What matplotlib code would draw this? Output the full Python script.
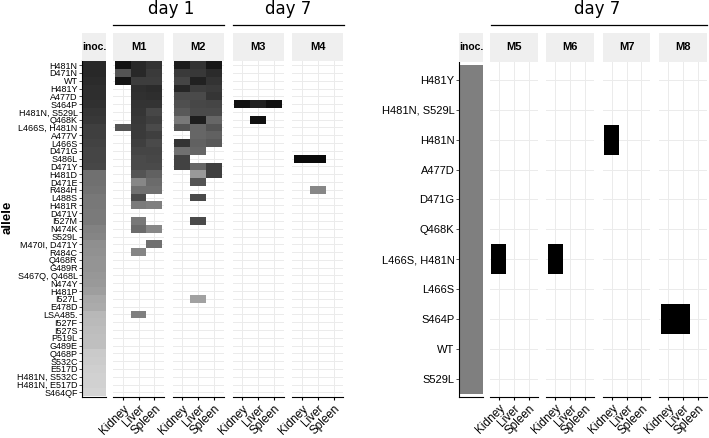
import numpy as np
import matplotlib
matplotlib.use("Agg")
import matplotlib.pyplot as plt
from matplotlib.colors import LinearSegmentedColormap
from matplotlib.lines import Line2D

# -------------------- data --------------------
tissues = ["Kidney", "Liver", "Spleen"]

left_alleles = ["H481N", "D471N", "WT", "H481Y", "A477D", "S464P", "H481N, S529L",
                "Q468K", "L466S, H481N", "A477V", "L466S", "D471G", "S486L", "D471Y",
                "H481D", "D471E", "R484H", "L488S", "H481R", "D471V", "I527M", "N474K",
                "S529L", "M470I, D471Y", "R484C", "Q468R", "G489R", "S467Q, Q468L",
                "N474Y", "H481P", "I527L", "E478D", "LSA485.", "I527F", "I527S", "P519L",
                "G489E", "Q468P", "S532C", "E517D", "H481N, S532C", "H481N, E517D", "S464QF"]

# shade (0 = white, 1 = black) of the inoculum column
inoc_left = [0.84, 0.84, 0.83, 0.82, 0.82, 0.81, 0.79, 0.78, 0.75, 0.75, 0.74, 0.73,
             0.73, 0.72, 0.56, 0.56, 0.55, 0.53, 0.53, 0.52, 0.52, 0.49, 0.48, 0.44,
             0.43, 0.42, 0.42, 0.41, 0.40, 0.38, 0.34, 0.33, 0.28, 0.27, 0.26, 0.25,
             0.25, 0.21, 0.20, 0.19, 0.18, 0.18, 0.17]

m1_kidney = {"H481N": 0.93, "D471N": 0.67, "WT": 0.92, "L466S, H481N": 0.67}
m1_liver = {"H481N": 0.84, "D471N": 0.84, "WT": 0.76, "H481Y": 0.82, "A477D": 0.81,
            "S464P": 0.80, "H481N, S529L": 0.79, "Q468K": 0.78, "L466S, H481N": 0.77,
            "A477V": 0.77, "L466S": 0.75, "D471G": 0.73, "S486L": 0.71, "D471Y": 0.71,
            "H481D": 0.67, "D471E": 0.47, "R484H": 0.56, "L488S": 0.71, "H481R": 0.52,
            "I527M": 0.53, "N474K": 0.58, "R484C": 0.48, "LSA485.": 0.50}
m1_spleen = {"H481N": 0.80, "D471N": 0.77, "WT": 0.76, "H481Y": 0.83, "A477D": 0.82,
             "S464P": 0.80, "H481N, S529L": 0.72, "Q468K": 0.75, "L466S, H481N": 0.71,
             "A477V": 0.75, "L466S": 0.71, "D471G": 0.73, "S486L": 0.72, "D471Y": 0.71,
             "H481D": 0.62, "D471E": 0.58, "R484H": 0.56, "H481R": 0.50, "N474K": 0.47,
             "M470I, D471Y": 0.56}

m2_kidney = {"H481N": 0.89, "D471N": 0.77, "WT": 0.73, "H481Y": 0.85, "A477D": 0.71,
             "S464P": 0.69, "H481N, S529L": 0.65, "Q468K": 0.53, "L466S, H481N": 0.67,
             "L466S": 0.80, "D471G": 0.56, "S486L": 0.74, "D471Y": 0.74}
m2_liver = {"H481N": 0.80, "D471N": 0.78, "WT": 0.87, "H481Y": 0.76, "A477D": 0.71,
            "S464P": 0.72, "H481N, S529L": 0.71, "Q468K": 0.88, "L466S, H481N": 0.60,
            "A477V": 0.60, "L466S": 0.62, "D471G": 0.60, "D471Y": 0.60, "H481D": 0.40,
            "D471E": 0.67, "L488S": 0.71, "I527M": 0.71, "I527L": 0.37}
m2_spleen = {"H481N": 0.91, "D471N": 0.83, "WT": 0.80, "H481Y": 0.77, "A477D": 0.79,
             "S464P": 0.73, "H481N, S529L": 0.71, "Q468K": 0.60, "L466S, H481N": 0.67,
             "A477V": 0.62, "L466S": 0.65, "D471Y": 0.75, "H481D": 0.75}

m3_kidney = {"S464P": 0.93}
m3_liver = {"S464P": 0.87, "Q468K": 0.93}
m3_spleen = {"S464P": 0.93}

m4_kidney = {"S486L": 0.96}
m4_liver = {"S486L": 0.96, "R484H": 0.47}
m4_spleen = {}

right_alleles = ["H481Y", "H481N, S529L", "H481N", "A477D", "D471G", "Q468K",
                 "L466S, H481N", "L466S", "S464P", "WT", "S529L"]
inoc_right = [0.50, 0.50, 0.50, 0.50, 0.50, 0.50, 0.50, 0.50, 0.50, 0.50, 0.50]

m5_kidney = {"L466S, H481N": 1.0}
m6_kidney = {"L466S, H481N": 1.0}
m7_kidney = {"H481N": 1.0}
m8_kidney = {"S464P": 1.0}
m8_liver = {"S464P": 1.0}

left_mice = [("M1", [m1_kidney, m1_liver, m1_spleen]),
             ("M2", [m2_kidney, m2_liver, m2_spleen]),
             ("M3", [m3_kidney, m3_liver, m3_spleen]),
             ("M4", [m4_kidney, m4_liver, m4_spleen])]
right_mice = [("M5", [m5_kidney, {}, {}]),
              ("M6", [m6_kidney, {}, {}]),
              ("M7", [m7_kidney, {}, {}]),
              ("M8", [m8_kidney, m8_liver, {}])]

# -------------------- style --------------------
W, H = 709, 438
LBL = ["Liberation Sans", "DejaVu Sans"]
GRID = "#EBEBEB"
STRIP = "#EFEFEF"
cmap = LinearSegmentedColormap.from_list("wb", ["white", "black"])

fig = plt.figure(figsize=(W / 100, H / 100), dpi=100)


def px_axes(x0, y0, x1, y1):
    return fig.add_axes([x0 / W, 1 - y1 / H, (x1 - x0) / W, (y1 - y0) / H])


def strip(x0, x1, y0, y1, label, fs=8):
    ax = px_axes(x0, y0, x1, y1)
    ax.set_facecolor(STRIP)
    ax.set_xticks([])
    ax.set_yticks([])
    for s in ax.spines.values():
        s.set_visible(False)
    ax.text(0.5, 0.5, label, transform=ax.transAxes, ha="center", va="center",
            fontsize=fs, fontweight="bold", family=LBL)


def inoc_panel(box, alleles, vals, fs):
    n = len(alleles)
    ax = px_axes(*box)
    z = np.array(vals, dtype=float).reshape(n, 1)
    ax.pcolormesh([0.5, 1.5], np.arange(0.5, n + 0.6, 1), z, cmap=cmap,
                  vmin=0, vmax=1, zorder=2)
    ax.set_xlim(0.5, 1.5)
    ax.set_ylim(n + 0.6, 0.4)
    ax.set_xticks([])
    ax.set_yticks(range(1, n + 1))
    ax.set_yticklabels(alleles, fontsize=fs, family=LBL)
    ax.tick_params(axis="y", length=2.2, width=0.6, pad=1, color="#333333")
    ax.spines["top"].set_visible(False)
    ax.spines["right"].set_visible(False)
    ax.spines["left"].set_linewidth(0.8)
    ax.spines["bottom"].set_linewidth(0.8)
    return ax


def tissue_panel(box, alleles, cols):
    n = len(alleles)
    ax = px_axes(*box)
    z = np.full((n, 3), np.nan)
    for j, d in enumerate(cols):
        for a, v in d.items():
            z[alleles.index(a), j] = v
    ax.pcolormesh(np.arange(0.5, 3.6, 1), np.arange(0.5, n + 0.6, 1),
                  np.ma.masked_invalid(z), cmap=cmap, vmin=0, vmax=1, zorder=2)
    ax.set_xlim(0.4, 3.6)
    ax.set_ylim(n + 0.6, 0.4)
    ax.set_xticks([1, 2, 3])
    ax.set_xticklabels(tissues, rotation=45, ha="right", va="top",
                       rotation_mode="anchor", fontsize=8.5, family=LBL)
    ax.set_yticks(range(1, n + 1))
    ax.tick_params(axis="y", left=False, labelleft=False)
    ax.tick_params(axis="x", length=2.2, width=0.8, pad=2)
    ax.grid(True, color=GRID, lw=0.7)
    ax.set_axisbelow(True)
    for s in ["top", "right", "left"]:
        ax.spines[s].set_visible(False)
    ax.spines["bottom"].set_linewidth(0.8)
    return ax


def day_header(x0, x1, xt, label):
    fig.add_artist(Line2D([x0 / W, x1 / W], [1 - 25 / H, 1 - 25 / H],
                          transform=fig.transFigure, color="black", lw=0.9))
    fig.text(xt / W, 1 - 14.5 / H, label, ha="center", va="baseline",
             fontsize=12, family="DejaVu Sans")


# -------------------- left block --------------------
top_l, bot_l = 60.5, 397
inoc_panel((82, top_l, 106, bot_l), left_alleles, inoc_left, 6.5)
strip(82, 106, 33, top_l, "inoc.", 7.5)
for i, (name, cols) in enumerate(left_mice):
    x0 = 113 + i * 59.8
    tissue_panel((x0, top_l, x0 + 51, bot_l), left_alleles, cols)
    strip(x0, x0 + 51, 33, top_l, name)
day_header(113, 224, 171, "day 1")
day_header(233, 344, 288, "day 7")
fig.text(8 / W, 1 - 217 / H, "allele", rotation=90, ha="center", va="center",
         fontsize=9.5, fontweight="bold", family=LBL)

# -------------------- right block --------------------
top_r, bot_r = 62, 396.5
inoc_panel((459, top_r, 483, bot_r), right_alleles, inoc_right, 8)
strip(459, 483, 33, top_r, "inoc.", 7.5)
for i, (name, cols) in enumerate(right_mice):
    x0 = 490 + i * 56.4
    tissue_panel((x0, top_r, x0 + 47.5, bot_r), right_alleles, cols)
    strip(x0, x0 + 47.5, 33, top_r, name)
day_header(491, 707, 597, "day 7")

fig.savefig("out.png", dpi=100)
